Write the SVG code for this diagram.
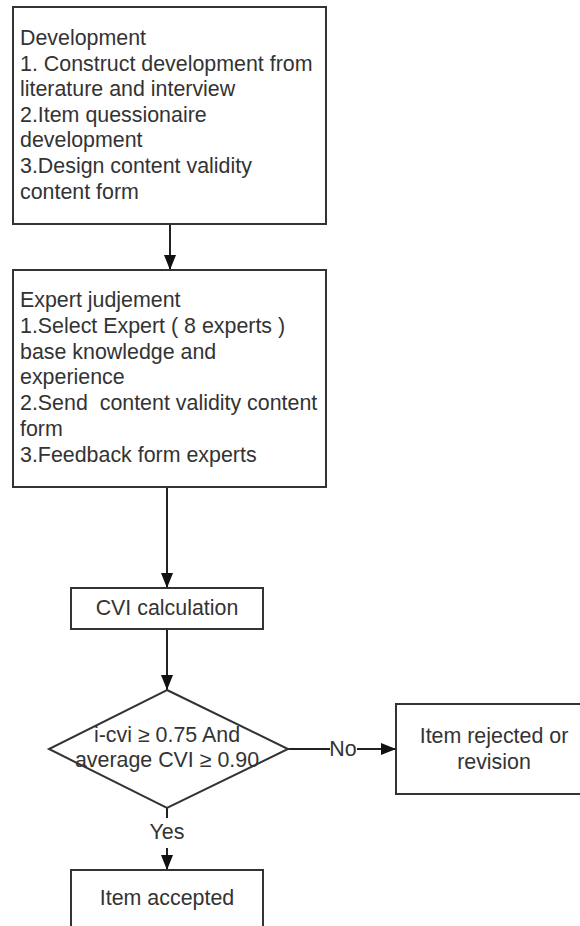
<svg xmlns="http://www.w3.org/2000/svg" width="580" height="926" viewBox="0 0 580 926">
<style>
.box{fill:#fff;stroke:#333;stroke-width:2}
.t{font-family:"Liberation Sans",Arial,sans-serif;font-size:21.4px;fill:#333}
.c{text-anchor:middle}
.ln{stroke:#222;stroke-width:2;fill:none}
</style>
<defs>
<marker id="ah" markerWidth="15" markerHeight="12" refX="15" refY="6" orient="auto" markerUnits="userSpaceOnUse" viewBox="0 0 15 12">
<path d="M0,0 L15,6 L0,12 Z" fill="#111"/>
</marker>
</defs>
<rect width="580" height="926" fill="#fff"/>
<g id="connectors">
<line class="ln" x1="170" y1="224" x2="170" y2="270" marker-end="url(#ah)"/>
<line class="ln" x1="167" y1="487" x2="167" y2="588" marker-end="url(#ah)"/>
<line class="ln" x1="167" y1="629" x2="167" y2="690" marker-end="url(#ah)"/>
<polyline class="ln" points="288,749 330,749"/>
<line class="ln" x1="357" y1="749" x2="396" y2="749" marker-end="url(#ah)"/>
<text class="t c" x="343" y="756">No</text>
<line class="ln" x1="167" y1="808" x2="167" y2="818"/>
<text class="t c" x="167" y="839">Yes</text>
<line class="ln" x1="167" y1="848" x2="167" y2="870" marker-end="url(#ah)"/>
</g>
<g id="development">
<rect class="box" x="13" y="7" width="313" height="217"/>
<text class="t" x="20" y="45">Development</text>
<text class="t" x="20" y="70.6">1. Construct development from</text>
<text class="t" x="20" y="96.2">literature and interview</text>
<text class="t" x="20" y="121.8">2.Item quessionaire</text>
<text class="t" x="20" y="147.4">development</text>
<text class="t" x="20" y="173">3.Design content validity</text>
<text class="t" x="20" y="198.6">content form</text>
</g>
<g id="expert">
<rect class="box" x="13" y="270" width="313" height="217"/>
<text class="t" x="20" y="307">Expert judjement</text>
<text class="t" x="20" y="332.8">1.Select Expert ( 8 experts )</text>
<text class="t" x="20" y="358.6">base knowledge and</text>
<text class="t" x="20" y="384.4">experience</text>
<text class="t" x="20" y="410.2" xml:space="preserve">2.Send  content validity content</text>
<text class="t" x="20" y="436">form</text>
<text class="t" x="20" y="461.8">3.Feedback form experts</text>
</g>
<g id="cvi">
<rect class="box" x="71" y="588" width="192" height="41"/>
<text class="t c" x="167" y="615">CVI calculation</text>
</g>
<g id="decision">
<polygon class="box" points="167,690 288,749 167,808 49,749"/>
<text class="t c" x="167" y="742">i-cvi ≥ 0.75 And</text>
<text class="t c" x="167" y="767">average CVI ≥ 0.90</text>
</g>
<g id="rejected">
<rect class="box" x="396" y="704" width="196" height="90"/>
<text class="t c" x="494" y="743">Item rejected or</text>
<text class="t c" x="494" y="769">revision</text>
</g>
<g id="accepted">
<rect class="box" x="71" y="870" width="192" height="70"/>
<text class="t c" x="167" y="905">Item accepted</text>
</g>
</svg>
